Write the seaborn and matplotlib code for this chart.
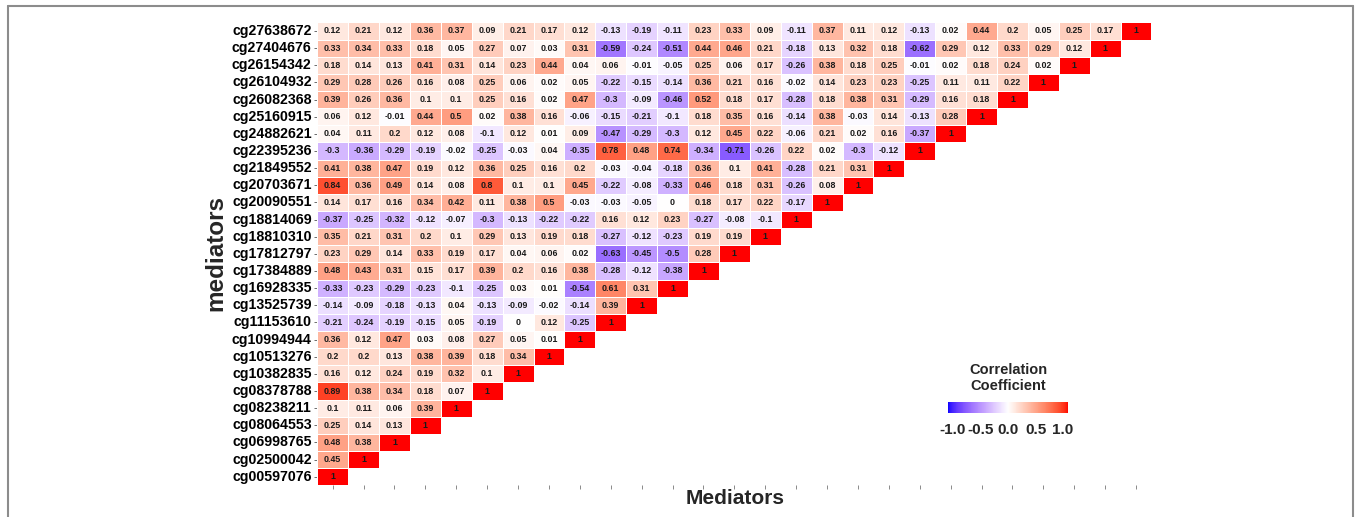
import numpy as np
import pandas as pd
import matplotlib
matplotlib.use("Agg")
import matplotlib.pyplot as plt
import seaborn as sns
from matplotlib.colors import ListedColormap, Normalize
from matplotlib.cm import ScalarMappable
from matplotlib.lines import Line2D

# ---------------- data ----------------
# mediators from bottom (column 0) to top (column 26)
mediators = ["cg00597076", "cg02500042", "cg06998765", "cg08064553", "cg08238211",
             "cg08378788", "cg10382835", "cg10513276", "cg10994944", "cg11153610",
             "cg13525739", "cg16928335", "cg17384889", "cg17812797", "cg18810310",
             "cg18814069", "cg20090551", "cg20703671", "cg21849552", "cg22395236",
             "cg24882621", "cg25160915", "cg26082368", "cg26104932", "cg26154342",
             "cg27404676", "cg27638672"]

# each row: correlations with mediators[0..i] (lower triangle incl. diagonal)
r_cg00597076 = [1]
r_cg02500042 = [0.45, 1]
r_cg06998765 = [0.48, 0.38, 1]
r_cg08064553 = [0.25, 0.14, 0.13, 1]
r_cg08238211 = [0.1, 0.11, 0.06, 0.39, 1]
r_cg08378788 = [0.89, 0.38, 0.34, 0.18, 0.07, 1]
r_cg10382835 = [0.16, 0.12, 0.24, 0.19, 0.32, 0.1, 1]
r_cg10513276 = [0.2, 0.2, 0.13, 0.38, 0.39, 0.18, 0.34, 1]
r_cg10994944 = [0.36, 0.12, 0.47, 0.03, 0.08, 0.27, 0.05, 0.01, 1]
r_cg11153610 = [-0.21, -0.24, -0.19, -0.15, 0.05, -0.19, 0, 0.12, -0.25, 1]
r_cg13525739 = [-0.14, -0.09, -0.18, -0.13, 0.04, -0.13, -0.09, -0.02, -0.14, 0.39, 1]
r_cg16928335 = [-0.33, -0.23, -0.29, -0.23, -0.1, -0.25, 0.03, 0.01, -0.54, 0.61, 0.31, 1]
r_cg17384889 = [0.48, 0.43, 0.31, 0.15, 0.17, 0.39, 0.2, 0.16, 0.38, -0.28, -0.12, -0.38, 1]
r_cg17812797 = [0.23, 0.29, 0.14, 0.33, 0.19, 0.17, 0.04, 0.06, 0.02, -0.63, -0.45, -0.5, 0.28, 1]
r_cg18810310 = [0.35, 0.21, 0.31, 0.2, 0.1, 0.29, 0.13, 0.19, 0.18, -0.27, -0.12, -0.23, 0.19,
                0.19, 1]
r_cg18814069 = [-0.37, -0.25, -0.32, -0.12, -0.07, -0.3, -0.13, -0.22, -0.22, 0.16, 0.12, 0.23,
                -0.27, -0.08, -0.1, 1]
r_cg20090551 = [0.14, 0.17, 0.16, 0.34, 0.42, 0.11, 0.38, 0.5, -0.03, -0.03, -0.05, 0, 0.18,
                0.17, 0.22, -0.17, 1]
r_cg20703671 = [0.84, 0.36, 0.49, 0.14, 0.08, 0.8, 0.1, 0.1, 0.45, -0.22, -0.08, -0.33, 0.46,
                0.18, 0.31, -0.26, 0.08, 1]
r_cg21849552 = [0.41, 0.38, 0.47, 0.19, 0.12, 0.36, 0.25, 0.16, 0.2, -0.03, -0.04, -0.18, 0.36,
                0.1, 0.41, -0.28, 0.21, 0.31, 1]
r_cg22395236 = [-0.3, -0.36, -0.29, -0.19, -0.02, -0.25, -0.03, 0.04, -0.35, 0.78, 0.48, 0.74,
                -0.34, -0.71, -0.26, 0.22, 0.02, -0.3, -0.12, 1]
r_cg24882621 = [0.04, 0.11, 0.2, 0.12, 0.08, -0.1, 0.12, 0.01, 0.09, -0.47, -0.29, -0.3, 0.12,
                0.45, 0.22, -0.06, 0.21, 0.02, 0.16, -0.37, 1]
r_cg25160915 = [0.06, 0.12, -0.01, 0.44, 0.5, 0.02, 0.38, 0.16, -0.06, -0.15, -0.21, -0.1, 0.18,
                0.35, 0.16, -0.14, 0.38, -0.03, 0.14, -0.13, 0.28, 1]
r_cg26082368 = [0.39, 0.26, 0.36, 0.1, 0.1, 0.25, 0.16, 0.02, 0.47, -0.3, -0.09, -0.46, 0.52,
                0.18, 0.17, -0.28, 0.18, 0.38, 0.31, -0.29, 0.16, 0.18, 1]
r_cg26104932 = [0.29, 0.28, 0.26, 0.16, 0.08, 0.25, 0.06, 0.02, 0.05, -0.22, -0.15, -0.14, 0.36,
                0.21, 0.16, -0.02, 0.14, 0.23, 0.23, -0.25, 0.11, 0.11, 0.22, 1]
r_cg26154342 = [0.18, 0.14, 0.13, 0.41, 0.31, 0.14, 0.23, 0.44, 0.04, 0.06, -0.01, -0.05, 0.25,
                0.06, 0.17, -0.26, 0.38, 0.18, 0.25, -0.01, 0.02, 0.18, 0.24, 0.02, 1]
r_cg27404676 = [0.33, 0.34, 0.33, 0.18, 0.05, 0.27, 0.07, 0.03, 0.31, -0.59, -0.24, -0.51, 0.44,
                0.46, 0.21, -0.18, 0.13, 0.32, 0.18, -0.62, 0.29, 0.12, 0.33, 0.29, 0.12, 1]
r_cg27638672 = [0.12, 0.21, 0.12, 0.36, 0.37, 0.09, 0.21, 0.17, 0.12, -0.13, -0.19, -0.11, 0.23,
                0.33, 0.09, -0.11, 0.37, 0.11, 0.12, -0.13, 0.02, 0.44, 0.2, 0.05, 0.25, 0.17, 1]

legend_ticks = [-1.0, -0.5, 0.0, 0.5, 1.0]
legend_ticklabels = ["-1.0", "-0.5", "0.0", "0.5", "1.0"]

rows_bottom_up = [r_cg00597076, r_cg02500042, r_cg06998765, r_cg08064553, r_cg08238211,
                  r_cg08378788, r_cg10382835, r_cg10513276, r_cg10994944, r_cg11153610,
                  r_cg13525739, r_cg16928335, r_cg17384889, r_cg17812797, r_cg18810310,
                  r_cg18814069, r_cg20090551, r_cg20703671, r_cg21849552, r_cg22395236,
                  r_cg24882621, r_cg25160915, r_cg26082368, r_cg26104932, r_cg26154342,
                  r_cg27404676, r_cg27638672]

n = len(mediators)
mat = np.full((n, n), np.nan)
for i, row in enumerate(rows_bottom_up):
    mat[i, :len(row)] = row
mat = mat[::-1]  # top row first
row_labels = mediators[::-1]
df = pd.DataFrame(mat, index=row_labels, columns=mediators)
mask = df.isna().values
annot = np.array([["" if np.isnan(v) else f"{v:g}" for v in r] for r in mat])

# ---------------- colormap (Lab interpolation like ggplot gradient2) ----------------
def srgb_to_lab(rgb):
    rgb = np.asarray(rgb, float)
    lin = np.where(rgb <= 0.04045, rgb / 12.92, ((rgb + 0.055) / 1.055) ** 2.4)
    M = np.array([[0.4124, 0.3576, 0.1805], [0.2126, 0.7152, 0.0722], [0.0193, 0.1192, 0.9505]])
    xyz = M @ lin / np.array([0.95047, 1.0, 1.08883])
    d = 6 / 29
    f = np.where(xyz > d ** 3, np.cbrt(xyz), xyz / (3 * d * d) + 4 / 29)
    return np.array([116 * f[1] - 16, 500 * (f[0] - f[1]), 200 * (f[1] - f[2])])

def lab_to_srgb(lab):
    L, a, b = lab
    fy = (L + 16) / 116
    fx = fy + a / 500
    fz = fy - b / 200
    d = 6 / 29
    finv = lambda t: t ** 3 if t > d else 3 * d * d * (t - 4 / 29)
    xyz = np.array([finv(fx), finv(fy), finv(fz)]) * np.array([0.95047, 1.0, 1.08883])
    Minv = np.linalg.inv(np.array([[0.4124, 0.3576, 0.1805], [0.2126, 0.7152, 0.0722],
                                   [0.0193, 0.1192, 0.9505]]))
    lin = np.clip(Minv @ xyz, 0, 1)
    return np.clip(np.where(lin <= 0.0031308, 12.92 * lin, 1.055 * lin ** (1 / 2.4) - 0.055), 0, 1)

lab_blue = srgb_to_lab([0, 0, 1])
lab_white = srgb_to_lab([1, 1, 1])
lab_red = srgb_to_lab([1, 0, 0])
cols = []
for t in np.linspace(0, 1, 256):
    if t < 0.5:
        s = t / 0.5
        lab = lab_blue + (lab_white - lab_blue) * s
    else:
        s = (t - 0.5) / 0.5
        lab = lab_white + (lab_red - lab_white) * s
    cols.append(lab_to_srgb(lab))
cmap = ListedColormap(cols)

# ---------------- figure ----------------
W, H = 1357, 517
fig = plt.figure(figsize=(W / 100, H / 100), dpi=100)
sns.set_style("white")
plt.rcParams["font.family"] = ["Liberation Sans", "DejaVu Sans"]

x0, x1, y0, y1 = 317.2, 1151.5, 22.4, 485.3
ax = fig.add_axes([x0 / W, 1 - y1 / H, (x1 - x0) / W, (y1 - y0) / H])
sns.heatmap(df, mask=mask, cmap=cmap, vmin=-1, vmax=1, annot=annot, fmt="",
            annot_kws={"fontsize": 6.4, "fontweight": "bold", "color": "#1a1a1a"},
            linewidths=0.5, linecolor="white", cbar=False, square=False, ax=ax)
ax.set_xticks(np.arange(n) + 0.5)
ax.set_xticklabels([""] * n)
ax.set_yticks(np.arange(n) + 0.5)
ax.set_yticklabels(row_labels, fontsize=10.2, fontweight="bold", color="black", rotation=0)
ax.tick_params(axis="y", length=2.5, width=0.6, color="#555555", pad=1.5, left=True)
ax.tick_params(axis="x", length=3, width=0.6, color="#777777", pad=1, bottom=True, direction="out")
ax.set_xlabel("")
ax.set_ylabel("")
for s in ax.spines.values():
    s.set_visible(False)

fig.text(735 / W, 1 - 499 / H, "Mediators", ha="center", va="center",
         fontsize=15, fontweight="bold")
fig.text(216 / W, 1 - 253 / H, "mediators", ha="center", va="center", rotation=90,
         fontsize=17.5, fontweight="bold")

# legend colorbar
cax = fig.add_axes([948 / W, 1 - 413 / H, 120 / W, 11 / H])
cb = fig.colorbar(ScalarMappable(norm=Normalize(-1.09, 1.09), cmap=cmap), cax=cax,
                  orientation="horizontal", ticks=legend_ticks)
cb.outline.set_visible(False)
cb.ax.set_xticklabels(legend_ticklabels, fontsize=11, fontweight="bold")
cb.ax.tick_params(axis="x", direction="in", length=3, width=0.8, color="white", pad=7)
fig.text(1008 / W, 1 - 378 / H, "Correlation\nCoefficient", ha="center", va="center",
         fontsize=10.5, fontweight="bold", linespacing=1.15)

# figure frame (left, top, right)
fc = "#8c8c8c"
fig.add_artist(Line2D([8 / W, 8 / W], [0, 1 - 6 / H], transform=fig.transFigure, color=fc, lw=1.5))
fig.add_artist(Line2D([8 / W, 1353 / W], [1 - 6 / H, 1 - 6 / H], transform=fig.transFigure, color=fc, lw=1.5))
fig.add_artist(Line2D([1353 / W, 1353 / W], [0, 1 - 6 / H], transform=fig.transFigure, color=fc, lw=1.5))

fig.savefig("out.png", dpi=100)
